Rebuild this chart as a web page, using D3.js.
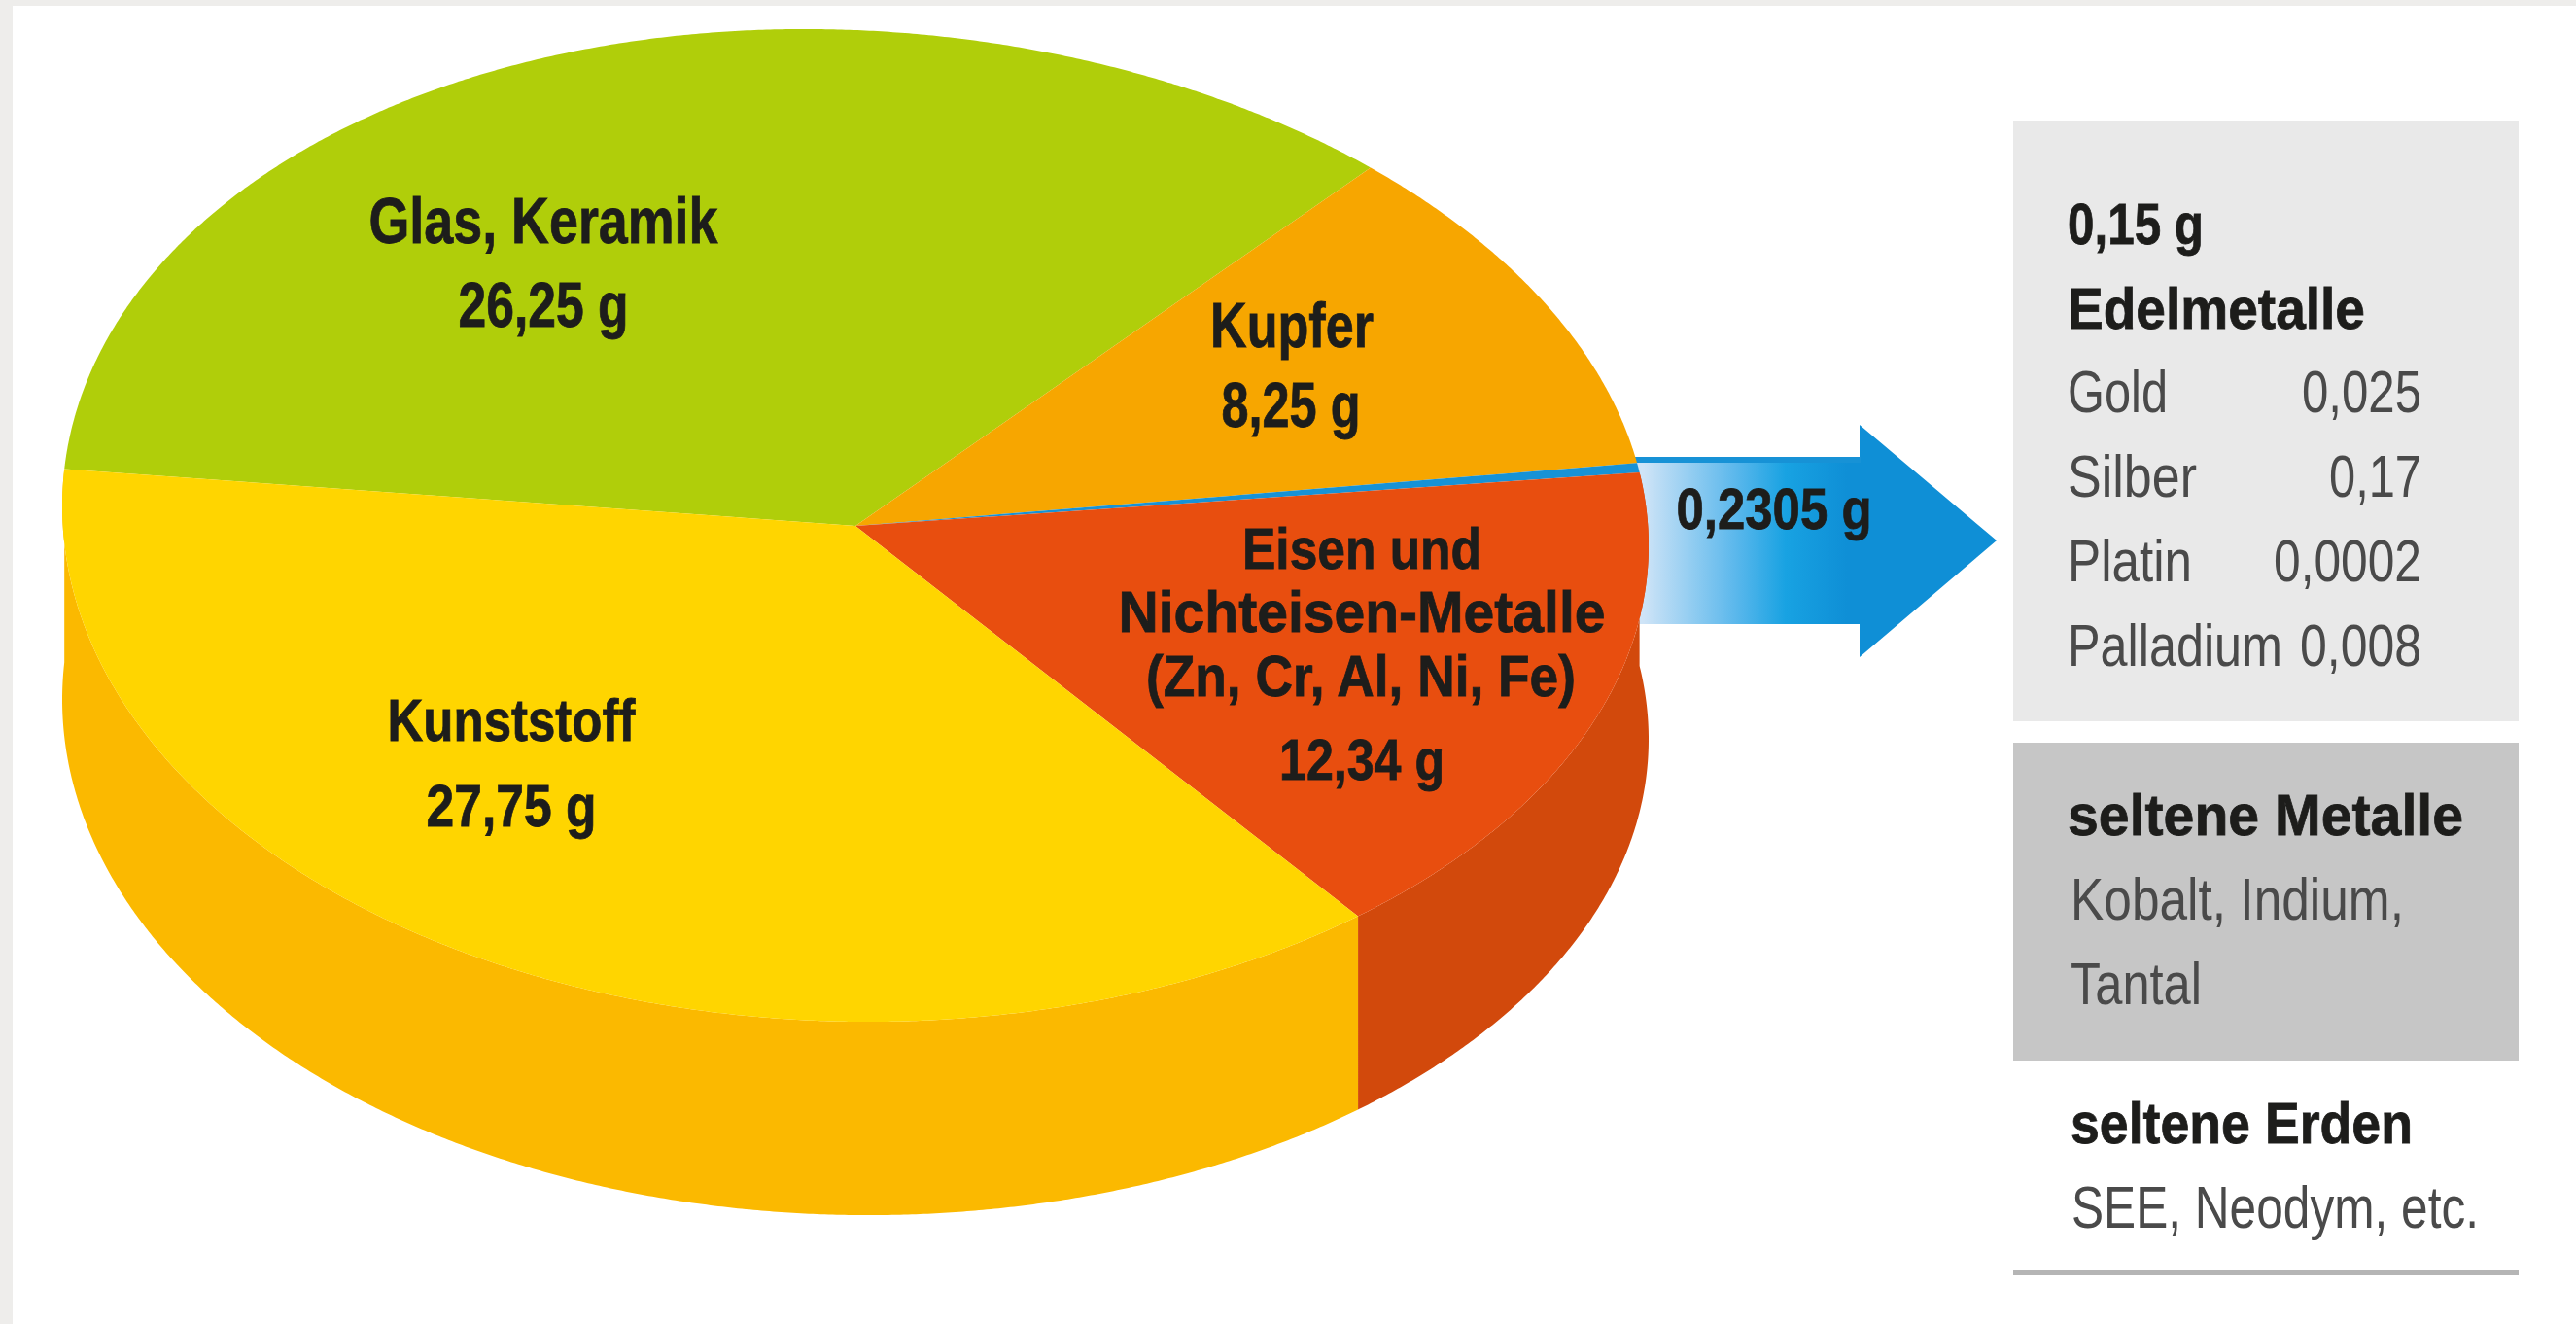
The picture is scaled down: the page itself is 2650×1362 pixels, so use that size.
<!DOCTYPE html>
<html>
<head>
<meta charset="utf-8">
<script src="https://cdn.jsdelivr.net/npm/d3@7"></script>
<style>
html, body { margin: 0; padding: 0; background: #fff; overflow: hidden; }
svg { display: block; filter: blur(0.7px); }
text { font-family: "Liberation Sans Narrow", "Liberation Sans", sans-serif; }
</style>
</head>
<body>
<svg width="2650" height="1362"></svg>
<script>
// chart values
const categories = ["Glas, Keramik", "Kupfer", "Edelmetalle", "Eisen und Nichteisen-Metalle", "Kunststoff"];
const grams = [26.25, 8.25, 0.2305, 12.34, 27.75];
const topColors = ["#b0ce0a", "#f7a600", "#1792d6", "#e84e0f", "#ffd500"];
const sideColors = [null, null, null, "#d2490c", "#fbb900"];

const nobleNames = ["Gold", "Silber", "Platin", "Palladium"];
const nobleValues = ["0,025", "0,17", "0,0002", "0,008"];

const gramText = v => String(v).replace(".", ",") + " g";

// pie geometry, the disc is an ellipse sheared a bit more in its upper half
const cx = 880, cy = 541, rx = 816, ry = 510, depth = 199;
const startDeg = -85.8;

const svg = d3.select("svg");

// frame
svg.append("rect").attr("width", 2650).attr("height", 1362).attr("fill", "#eeedeb");
svg.append("rect").attr("x", 13).attr("y", 6).attr("width", 2637).attr("height", 1356).attr("fill", "#fff");

const pie = d3.pie().sort(null).value(d => d)
    .startAngle(startDeg * Math.PI / 180)
    .endAngle((startDeg + 360) * Math.PI / 180);
const slices = pie(grams);

function rim(a, dy) {
    const x = rx * Math.sin(a);
    const shear = 0.025 + 0.015 * Math.cos(a);
    return [cx + x, cy - ry * Math.cos(a) + x * shear + dy];
}
const angles = d => d3.range(d.startAngle, d.endAngle, 0.005).concat(d.endAngle);

// arrow goes behind the disc
const grad = svg.append("defs").append("linearGradient")
    .attr("id", "arrowFill")
    .attr("gradientUnits", "userSpaceOnUse")
    .attr("x1", 1690).attr("x2", 1900).attr("y1", 0).attr("y2", 0);
grad.append("stop").attr("offset", 0).attr("stop-color", "#cfe4f7");
grad.append("stop").attr("offset", 0.45).attr("stop-color", "#5cb8ec");
grad.append("stop").attr("offset", 0.7).attr("stop-color", "#18a2e2");
grad.append("stop").attr("offset", 1).attr("stop-color", "#0f8fd6");

const arrowPts = [[1660, 476], [1913, 476], [1913, 437], [2054, 556], [1913, 676], [1913, 642], [1660, 642]];
svg.append("path").attr("d", d3.line()(arrowPts) + "Z").attr("fill", "url(#arrowFill)");
svg.append("rect").attr("x", 1660).attr("y", 470).attr("width", 254).attr("height", 6).attr("fill", "#1792d6");

// sides
svg.append("g").selectAll("path")
    .data(slices.filter(d => sideColors[d.index]))
    .enter().append("path")
    .attr("fill", d => sideColors[d.index])
    .attr("d", d => {
        const as = angles(d);
        return d3.line()(as.map(a => rim(a, 0)).concat(as.slice().reverse().map(a => rim(a, depth)))) + "Z";
    });

// top face
svg.append("g").selectAll("path")
    .data(slices)
    .enter().append("path")
    .attr("fill", d => topColors[d.index])
    .attr("d", d => d3.line()([[cx, cy]].concat(angles(d).map(a => rim(a, 0)))) + "Z");

// labels: text, center x, baseline, width, font size
const pieLabels = [
    [categories[0], 559, 250, 359, 66],
    [gramText(grams[0]), 559, 336, 175, 64],
    [categories[1], 1329, 357, 168, 64],
    [gramText(grams[1]), 1328, 439, 143, 64],
    ["Eisen und", 1401, 585, 246, 60],
    ["Nichteisen-Metalle", 1401, 650, 501, 60],
    ["(Zn, Cr, Al, Ni, Fe)", 1400, 716, 442, 60],
    [gramText(grams[3]), 1401, 802, 170, 60],
    [gramText(grams[2]), 1825, 544, 201, 60],
    [categories[4], 526, 762, 255, 62],
    [gramText(grams[4]), 526, 850, 175, 62]
];
svg.append("g").selectAll("text")
    .data(pieLabels)
    .enter().append("text")
    .attr("x", d => d[1])
    .attr("y", d => d[2])
    .attr("text-anchor", "middle")
    .attr("font-size", d => d[4])
    .attr("font-weight", 700)
    .attr("fill", "#1d1d1b")
    .attr("stroke", "#1d1d1b")
    .attr("stroke-width", 0.8)
    .attr("textLength", d => d[3])
    .attr("lengthAdjust", "spacingAndGlyphs")
    .text(d => d[0]);

// right panel
svg.append("rect").attr("x", 2071).attr("y", 124).attr("width", 520).attr("height", 618).attr("fill", "#e9e9e9");
svg.append("rect").attr("x", 2071).attr("y", 764).attr("width", 520).attr("height", 327).attr("fill", "#c6c6c6");
svg.append("rect").attr("x", 2071).attr("y", 1306).attr("width", 520).attr("height", 6).attr("fill", "#b5b5b5");

const panelHeads = [
    ["0,15 g", 2127, 251, 140],
    ["Edelmetalle", 2127, 338, 306],
    ["seltene Metalle", 2127, 859, 407],
    ["seltene Erden", 2130, 1176, 352]
];
svg.append("g").selectAll("text")
    .data(panelHeads)
    .enter().append("text")
    .attr("x", d => d[1])
    .attr("y", d => d[2])
    .attr("font-size", 60)
    .attr("font-weight", 700)
    .attr("fill", "#1d1d1b")
    .attr("stroke", "#1d1d1b")
    .attr("stroke-width", 0.8)
    .attr("textLength", d => d[3])
    .attr("lengthAdjust", "spacingAndGlyphs")
    .text(d => d[0]);

const nobleY = d3.scalePoint().domain(nobleNames).range([424, 685]);
const nameWidths = [103, 133, 128, 221];
const valueWidths = [123, 95, 152, 125];

const body = svg.append("g")
    .attr("font-size", 62)
    .attr("fill", "#4a4a4a");

body.selectAll(".noble-name")
    .data(nobleNames)
    .enter().append("text")
    .attr("class", "noble-name")
    .attr("x", 2127)
    .attr("y", d => nobleY(d))
    .attr("textLength", (d, i) => nameWidths[i])
    .attr("lengthAdjust", "spacingAndGlyphs")
    .text(d => d);

body.selectAll(".noble-value")
    .data(nobleValues)
    .enter().append("text")
    .attr("class", "noble-value")
    .attr("x", 2491)
    .attr("y", (d, i) => nobleY(nobleNames[i]))
    .attr("text-anchor", "end")
    .attr("textLength", (d, i) => valueWidths[i])
    .attr("lengthAdjust", "spacingAndGlyphs")
    .text(d => d);

const panelNotes = [
    ["Kobalt, Indium,", 2130, 946, 343],
    ["Tantal", 2130, 1033, 135],
    ["SEE, Neodym, etc.", 2131, 1263, 419]
];
body.selectAll(".note")
    .data(panelNotes)
    .enter().append("text")
    .attr("class", "note")
    .attr("x", d => d[1])
    .attr("y", d => d[2])
    .attr("textLength", d => d[3])
    .attr("lengthAdjust", "spacingAndGlyphs")
    .text(d => d[0]);
</script>
</body>
</html>
